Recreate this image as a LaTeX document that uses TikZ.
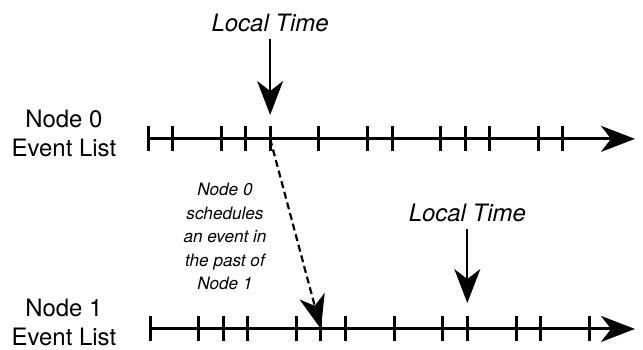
\documentclass[tikz,border=0pt]{standalone}
\usepackage{fontspec}
\setmainfont{TeX Gyre Heros}
\usetikzlibrary{arrows.meta}

\begin{document}
\begin{tikzpicture}[
  x=0.43cm, y=0.43cm,
  font=\fontsize{12}{14.5}\selectfont,
  >={Stealth[length=17pt, width=13pt, inset=5pt]},
  timeline/.style={->, line width=1.5pt},
  tick/.style={line width=1.5pt},
  nowarrow/.style={->, line width=1.1pt},
  sendarrow/.style={->, line width=1.1pt, dash pattern=on 3.5pt off 2pt},
  listlabel/.style={align=center, inner sep=0pt},
  nowlabel/.style={font=\fontsize{12}{14.5}\selectfont\itshape},
  note/.style={align=center, inner sep=0pt, font=\fontsize{8.6}{11.75}\selectfont\itshape},
]
\useasboundingbox (0,0) rectangle (26.35,14.34);

% --- Node 0: event list ---
\coordinate (l0s) at (6.07,8.65);
\coordinate (l0e) at (26.02,8.65);
\draw[timeline] (l0s) -- (l0e);
\foreach \k in {0,1,3,4,5,7,9,10,12,13,14,16,17} {
  \path (l0s) ++(\k,0) coordinate (t0-\k);
  \draw[tick] ([yshift=-6.25pt]t0-\k) -- ([yshift=6.25pt]t0-\k);
}
\node[listlabel, anchor=base] (n0) at (2.62,7.91) {Node 0\\Event List};

% --- Node 1: event list ---
\coordinate (l1s) at (6.15,0.86);
\coordinate (l1e) at (26.02,0.86);
\draw[timeline] (l1s) -- (l1e);
\foreach \k in {0,2,3,4,6,7,8,10,12,13,15,16,18} {
  \path (l1s) ++(\k,0) coordinate (t1-\k);
  \draw[tick] ([yshift=-6.25pt]t1-\k) -- ([yshift=6.25pt]t1-\k);
}
\node[listlabel, anchor=base] (n1) at (2.62,0.18) {Node 1\\Event List};

% --- local time of each node ---
\node[nowlabel, anchor=base] (now0) at (11.07,13.03) {Local Time};
\draw[nowarrow] (now0) -- ([yshift=12pt]t0-5);
\node[nowlabel, anchor=base] (now1) at (19.15,5.25) {Local Time};
\draw[nowarrow] (now1) -- ([yshift=13pt]t1-13);

% --- message into the past ---
\draw[sendarrow] (t0-5) -- (t1-7);
\node[note] (msg) at (9.22,4.65) {Node 0\\schedules\\an event in\\the past of\\Node 1};

\end{tikzpicture}
\end{document}
